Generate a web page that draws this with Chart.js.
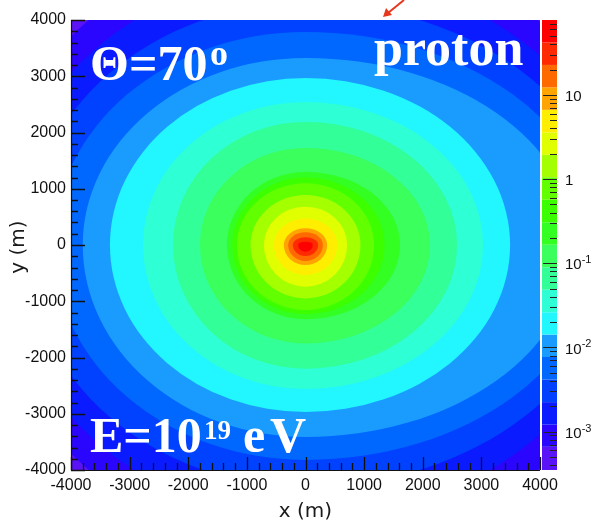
<!DOCTYPE html>
<html><head><meta charset="utf-8">
<script src="https://cdn.jsdelivr.net/npm/chart.js@4.4.0/dist/chart.umd.min.js"></script>
<style>html,body{margin:0;padding:0;background:#fff;}canvas{display:block;}</style>
</head><body>
<canvas id="c" width="592" height="526"></canvas>
<script>
// ---- data ----
const axisRange = [-4000, 4000];
const xTickValues = [-4000, -3000, -2000, -1000, 0, 1000, 2000, 3000, 4000];
const yTickValues = [-4000, -3000, -2000, -1000, 0, 1000, 2000, 3000, 4000];
const zRange = [3.5e-4, 77.6];
// contour levels (lower edge of bands 1..19)
const contourLevels = [6.6e-4, 1.21e-3, 2.24e-3, 4.15e-3, 7.7e-3, 1.42e-2, 2.62e-2, 4.85e-2, 8.97e-2,
  0.166, 0.307, 0.568, 1.05, 1.94, 3.59, 6.64, 12.3, 22.7, 42.0];
// radius (m) of each contour line along +x, -x, +y, -y
const radiusPlusX  = [5900, 5550, 5300, 5000, 4600, 3490, 3029, 2585, 2124, 1612, 1350, 1170, 938, 711, 540, 370, 296, 216, 125];
const radiusMinusX = [5500, 5150, 4750, 4300, 3800, 3336, 2773, 2261, 1800, 1340, 1250, 1170, 938, 711, 540, 370, 296, 216, 125];
const radiusPlusY  = [5400, 4850, 4300, 3787, 3325, 2970, 2542, 2187, 1725, 1298, 1200, 1096, 889, 681, 473, 296, 225, 136, 60];
const radiusMinusY = [5400, 4850, 4300, 3822, 3413, 2970, 2560, 2200, 1750, 1320, 1230, 1156, 949, 741, 533, 356, 285, 196, 120];
const colorbarTickValues = [1e-3, 1e-2, 1e-1, 1, 10];
const colorbarTickBase = ['10', '10', '10', '1', '10'];
const colorbarTickExp = ['-3', '-2', '-1', '', ''];

// ---- styles ----
const bandColors = ['#5a12f6', '#2a06ff', '#0a1cff', '#0042ff', '#0068ff', '#1a9cff', '#22f6ff', '#2effd4',
  '#33ff99', '#3aff5c', '#33ff22', '#3cff00', '#62ff00', '#a4ff00', '#e0ff00', '#ffee00', '#ffa400',
  '#ff6a00', '#ff2a00', '#ff0000'];

function levelEdges() { return [zRange[0]].concat(contourLevels, [zRange[1]]); }

const heatPlugin = {
  id: 'heat',
  beforeDatasetsDraw(chart) {
    const {ctx, chartArea: a, scales: {x, y}} = chart;
    ctx.save();
    ctx.beginPath(); ctx.rect(a.left, a.top, a.right - a.left, a.bottom - a.top); ctx.clip();
    ctx.fillStyle = bandColors[0];
    ctx.fillRect(a.left, a.top, a.right - a.left, a.bottom - a.top);
    const cx = x.getPixelForValue(0), cy = y.getPixelForValue(0);
    for (let i = 0; i < contourLevels.length; i++) {
      const R = x.getPixelForValue(radiusPlusX[i]) - cx;
      const L = cx - x.getPixelForValue(-radiusMinusX[i]);
      const T = cy - y.getPixelForValue(radiusPlusY[i]);
      const B = y.getPixelForValue(-radiusMinusY[i]) - cy;
      ctx.beginPath();
      ctx.ellipse(cx, cy, R, B, 0, 0, Math.PI / 2);
      ctx.ellipse(cx, cy, L, B, 0, Math.PI / 2, Math.PI);
      ctx.ellipse(cx, cy, L, T, 0, Math.PI, 1.5 * Math.PI);
      ctx.ellipse(cx, cy, R, T, 0, 1.5 * Math.PI, 2 * Math.PI);
      ctx.closePath();
      ctx.fillStyle = bandColors[i + 1];
      ctx.fill();
    }
    ctx.restore();
  },
  afterDraw(chart) {
    const {ctx, chartArea: a, scales: {x, y, z}} = chart;
    ctx.save();
    // axis ticks (inside)
    ctx.strokeStyle = '#111'; ctx.lineWidth = 1.3;
    ctx.beginPath();
    for (let v = axisRange[0]; v <= axisRange[1]; v += 200) {
      const major = v % 1000 === 0;
      const px = Math.round(x.getPixelForValue(v)) + 0.5;
      ctx.moveTo(px, a.bottom); ctx.lineTo(px, a.bottom - (major ? 13 : 7));
      const py = Math.round(y.getPixelForValue(v)) + 0.5;
      ctx.moveTo(a.left, py); ctx.lineTo(a.left + (major ? 14 : 7), py);
    }
    ctx.stroke();
    ctx.lineWidth = 1.2;
    ctx.beginPath();
    ctx.moveTo(a.left + 0.5, a.top); ctx.lineTo(a.left + 0.5, a.bottom + 0.5);
    ctx.lineTo(a.right, a.bottom + 0.5);
    ctx.stroke();

    // colour bar
    const edges = levelEdges();
    const bx = a.right + 2, bw = 15;
    for (let k = 0; k < bandColors.length; k++) {
      const y0 = z.getPixelForValue(edges[k]), y1 = z.getPixelForValue(edges[k + 1]);
      ctx.fillStyle = bandColors[k];
      ctx.fillRect(bx, y1, bw, y0 - y1);
    }
    ctx.strokeStyle = '#222'; ctx.lineWidth = 1.2;
    ctx.beginPath();
    for (let d = -4; d <= 1; d++) {
      for (let m = 1; m <= 9; m++) {
        const v = m * Math.pow(10, d);
        if (v < zRange[0] || v > zRange[1]) continue;
        const py = Math.round(z.getPixelForValue(v)) + 0.5;
        ctx.moveTo(bx + bw, py); ctx.lineTo(bx + bw - (m === 1 ? 14 : 7), py);
      }
    }
    ctx.stroke();
    ctx.fillStyle = '#111';
    ctx.textBaseline = 'middle'; ctx.textAlign = 'left';
    colorbarTickValues.forEach((v, i) => {
      const py = z.getPixelForValue(v);
      ctx.font = '15px "Liberation Sans"';
      ctx.fillText(colorbarTickBase[i], 565, py + 2);
      if (colorbarTickExp[i]) {
        const w = ctx.measureText(colorbarTickBase[i]).width;
        ctx.font = '11px "Liberation Sans"';
        ctx.fillText(colorbarTickExp[i], 565 + w, py - 3);
      }
    });

    // axis titles
    ctx.fillStyle = '#1a1a1a';
    ctx.font = '20px "DejaVu Sans"';
    ctx.textAlign = 'center'; ctx.textBaseline = 'middle';
    ctx.fillText('x (m)', (a.left + a.right) / 2, 512);
    ctx.save();
    ctx.translate(19, 247); ctx.rotate(-Math.PI / 2);
    ctx.fillText('y (m)', 0, 0);
    ctx.restore();

    // annotations
    ctx.fillStyle = '#fff'; ctx.textAlign = 'left'; ctx.textBaseline = 'alphabetic';
    ctx.font = 'bold 50px "Liberation Serif"';
    ctx.fillText('\u0398=70', 90, 80);
    ctx.font = 'bold 36px "Liberation Serif"';
    ctx.fillText('o', 210, 65);
    ctx.font = 'bold 52px "Liberation Serif"';
    ctx.fillText('proton', 374, 65);
    ctx.font = 'bold 50px "Liberation Serif"';
    ctx.fillText('E=10', 90, 452);
    ctx.font = 'bold 27px "Liberation Serif"';
    ctx.fillText('19', 204, 439);
    ctx.font = 'bold 50px "Liberation Serif"';
    ctx.fillText('e', 243, 452);
    ctx.fillText('V', 270, 452);

    // red arrow at top
    ctx.strokeStyle = '#e5381f'; ctx.fillStyle = '#e5381f'; ctx.lineWidth = 2;
    ctx.beginPath(); ctx.moveTo(404, 0); ctx.lineTo(388, 13); ctx.stroke();
    ctx.beginPath(); ctx.moveTo(383, 17); ctx.lineTo(386, 8); ctx.lineTo(392, 15); ctx.closePath(); ctx.fill();
    ctx.restore();
  }
};

const tickFont = {family: '"Liberation Sans"', size: 16};
new Chart(document.getElementById('c'), {
  type: 'scatter',
  data: {datasets: [{data: []}]},
  options: {
    responsive: false, animation: false, devicePixelRatio: 1,
    layout: {padding: {top: 20, left: 0, right: 0, bottom: 0}},
    plugins: {legend: {display: false}, tooltip: {enabled: false}},
    scales: {
      x: {type: 'linear', position: 'bottom', min: axisRange[0], max: axisRange[1],
        afterBuildTicks: s => { s.ticks = xTickValues.map(v => ({value: v})); },
        afterFit: s => { s.height = 56; },
        grid: {display: false, drawTicks: false}, border: {display: false},
        ticks: {autoSkip: false, maxRotation: 0, padding: 6, color: '#111', font: tickFont, callback: v => String(v)}},
      y: {type: 'linear', position: 'left', min: axisRange[0], max: axisRange[1],
        afterBuildTicks: s => { s.ticks = yTickValues.map(v => ({value: v})); },
        afterFit: s => { s.width = 71; },
        grid: {display: false, drawTicks: false}, border: {display: false},
        ticks: {autoSkip: false, padding: 5, color: '#111', font: tickFont, callback: v => String(v)}},
      z: {type: 'logarithmic', axis: 'y', position: 'right', min: zRange[0], max: zRange[1],
        afterFit: s => { s.width = 52; },
        grid: {display: false, drawTicks: false}, border: {display: false},
        ticks: {display: false}}
    }
  },
  plugins: [heatPlugin]
});
</script>
</body></html>
